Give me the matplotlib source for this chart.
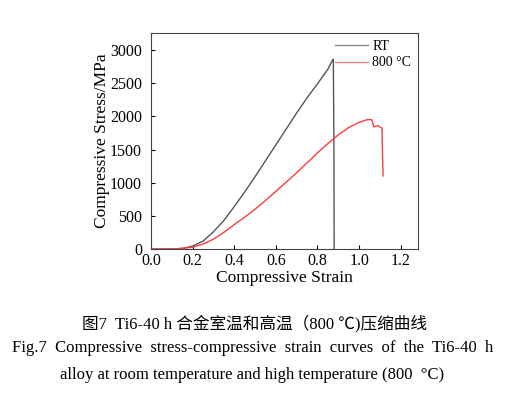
import matplotlib.pyplot as plt
import numpy as np

plt.rcParams['font.family'] = ['Liberation Serif', 'Noto Sans CJK SC', 'DejaVu Sans']

# room temperature curve
rt_strain = [0.0, 0.08, 0.12, 0.16, 0.2, 0.25, 0.3, 0.35, 0.4, 0.45, 0.5, 0.55, 0.6,
             0.65, 0.7, 0.75, 0.8, 0.85, 0.87, 0.876, 0.879, 0.88]
rt_stress = [0, 0, 5, 15, 45, 120, 260, 430, 640, 860, 1090, 1330, 1570,
             1810, 2050, 2280, 2490, 2710, 2830, 2860, 1500, 0]

# 800 C curve
ht_strain = [0.0, 0.1, 0.15, 0.2, 0.25, 0.3, 0.35, 0.4, 0.45, 0.5, 0.55, 0.6, 0.65,
             0.7, 0.75, 0.8, 0.85, 0.9, 0.95, 1.0, 1.04, 1.06, 1.065, 1.07, 1.08,
             1.09, 1.1, 1.11, 1.112, 1.115]
ht_stress = [0, 0, 8, 30, 75, 150, 250, 370, 480, 600, 730, 870, 1010,
             1150, 1300, 1450, 1590, 1720, 1830, 1910, 1950, 1950, 1910, 1840, 1850,
             1860, 1840, 1820, 1500, 1100]

fig = plt.figure(figsize=(5.18, 3.96), dpi=100)
ax = fig.add_axes([0.2915, 0.371, 0.5155, 0.5457])

ax.plot(rt_strain, rt_stress, color='#555555', lw=1.0, label='RT')
ax.plot(ht_strain, ht_stress, color='#ff3b3b', lw=1.0, label='800 °C')

ax.set_xlim(0, 1.283)
ax.set_ylim(0, 3255)
ax.set_xticks(np.arange(0, 1.21, 0.2))
ax.set_yticks(np.arange(0, 3001, 500))
ax.tick_params(direction='in', labelsize=11.5, length=3)
ax.tick_params(axis='x', pad=2.5)
ax.tick_params(axis='y', pad=6.5)
for s in ax.spines.values():
    s.set_color('#444444')
    s.set_linewidth(0.8)
ax.set_xlabel('Compressive Strain', fontsize=12.5, labelpad=1)
ax.set_ylabel('Compressive Stress/MPa', fontsize=12.5, labelpad=0)
leg = ax.legend(loc='upper right', frameon=False, fontsize=10, handlelength=2.4,
                borderaxespad=0.1, labelspacing=0.25, handletextpad=0.3)
leg.get_lines()[0].set_color('#888888')
leg.get_lines()[1].set_color('#ff8080')

fig.text(0.492, 0.182, '图7  Ti6-40 h 合金室温和高温（800 ℃)压缩曲线', ha='center',
         va='center', fontsize=12, family=['Liberation Serif', 'Noto Sans CJK SC'])
fig.text(0.024, 0.121, 'Fig.7  Compressive  stress-compressive  strain  curves  of  the  Ti6-40  h',
         ha='left', va='center', fontsize=12)
fig.text(0.487, 0.053, 'alloy at room temperature and high temperature (800  °C)', ha='center',
         va='center', fontsize=12)

fig.savefig('out.png', dpi=100)
